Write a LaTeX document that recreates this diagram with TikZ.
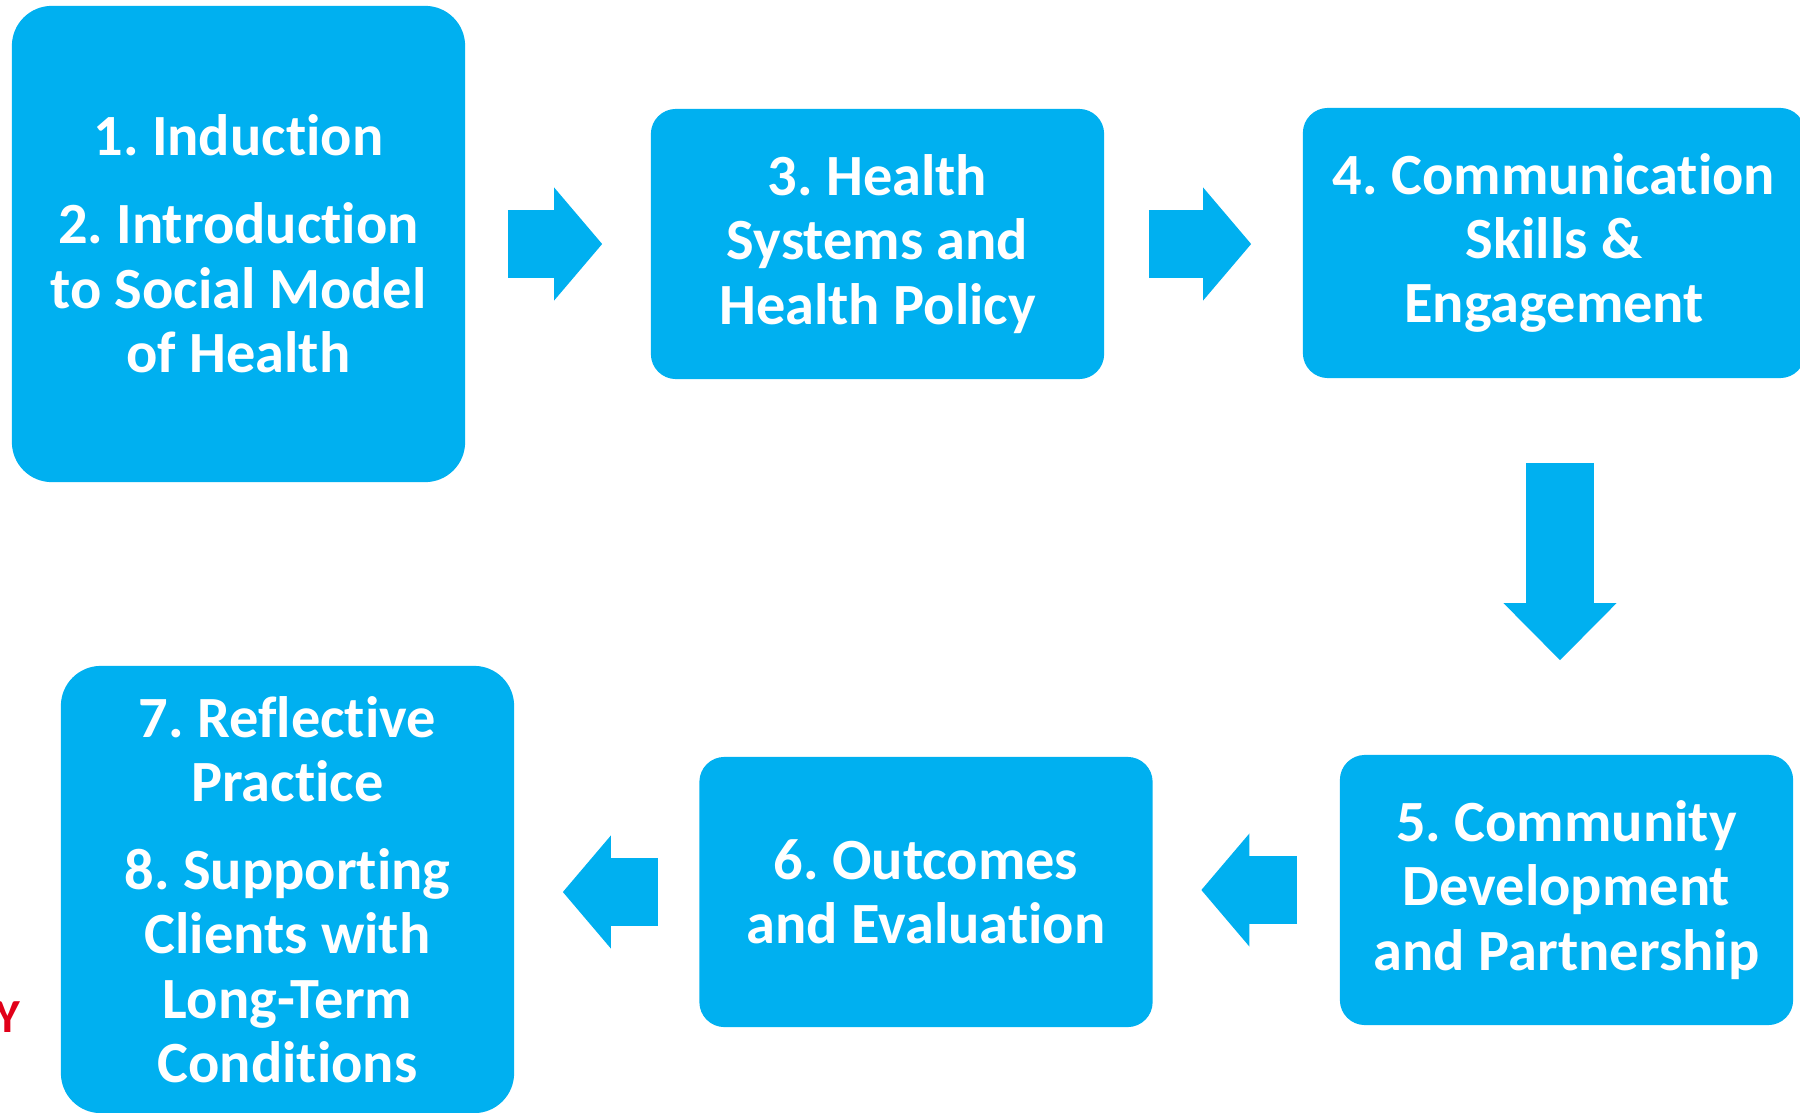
\documentclass[tikz,border=0pt]{standalone}
\usepackage{xcolor}
\usepackage{fontspec}
\setmainfont[Ligatures=NoCommon]{Carlito}
\frenchspacing
\usetikzlibrary{arrows.meta}
\definecolor{boxblue}{RGB}{0,176,240}
\definecolor{markred}{RGB}{225,0,25}
\tikzstyle{module} = [rectangle, rounded corners=0.25cm, inner sep=0pt, minimum width=4.53cm, minimum height=2.7cm, align=center, fill=boxblue, text=white, font=\bfseries\fontsize{16.6}{18.3}\selectfont]
\tikzstyle{bigmodule} = [module, rounded corners=0.4cm]
\tikzstyle{blockarrow} = [draw=boxblue, line width=0.68cm, -{Triangle[length=0.48cm, width=1.13cm, line width=0pt]}]

\begin{document}
\begin{tikzpicture}[x=0.01cm, y=-0.01cm]
\useasboundingbox (0,0) rectangle (1800,1112);
%\tikzstyle{every node}=[scale=0.9]
\node (induction) [bigmodule, minimum height=4.76cm] at (238.5,244) {1. Induction\\[6.7pt]2. Introduction\\to Social Model\\of Health};
\node (systems) [module] at (877.5,244) {3. Health\\Systems and\\Health Policy};
\node (communication) [module, minimum width=5.02cm] at (1554,243) {4. Communication\\Skills \&\\Engagement};
\node (community) [module] at (1566.5,890) {5. Community\\Development\\and Partnership};
\node (outcomes) [module] at (926,892) {6. Outcomes\\and Evaluation};
\node (reflective) [bigmodule, minimum height=4.47cm] at (287.5,889.5) {7. Reflective\\Practice\\[6.7pt]8. Supporting\\Clients with\\Long-Term\\Conditions};
\node (cut) [anchor=base east, inner sep=0pt, text=markred, font=\bfseries\fontsize{13.5}{14}\selectfont] at (21,1032) {Y};

\draw[blockarrow, shorten <=0.42cm, shorten >=0.48cm] (induction.east) -- (induction.east -| systems.west);
\draw[blockarrow, shorten <=0.44cm, shorten >=0.51cm] (systems.east) -- (systems.east -| communication.west);
\draw[blockarrow, shorten <=0.84cm, shorten >=0.94cm, -{Triangle[length=0.57cm, width=1.13cm, line width=0pt]}] ([xshift=0.06cm]communication.south) -- ([xshift=0.06cm]communication.south |- community.north);
\draw[blockarrow, shorten <=0.42cm, shorten >=0.48cm] (community.west) -- (community.west -| outcomes.east);
\draw[blockarrow, shorten <=0.41cm, shorten >=0.48cm] (outcomes.west) -- (outcomes.west -| reflective.east);
\end{tikzpicture}
\end{document}
